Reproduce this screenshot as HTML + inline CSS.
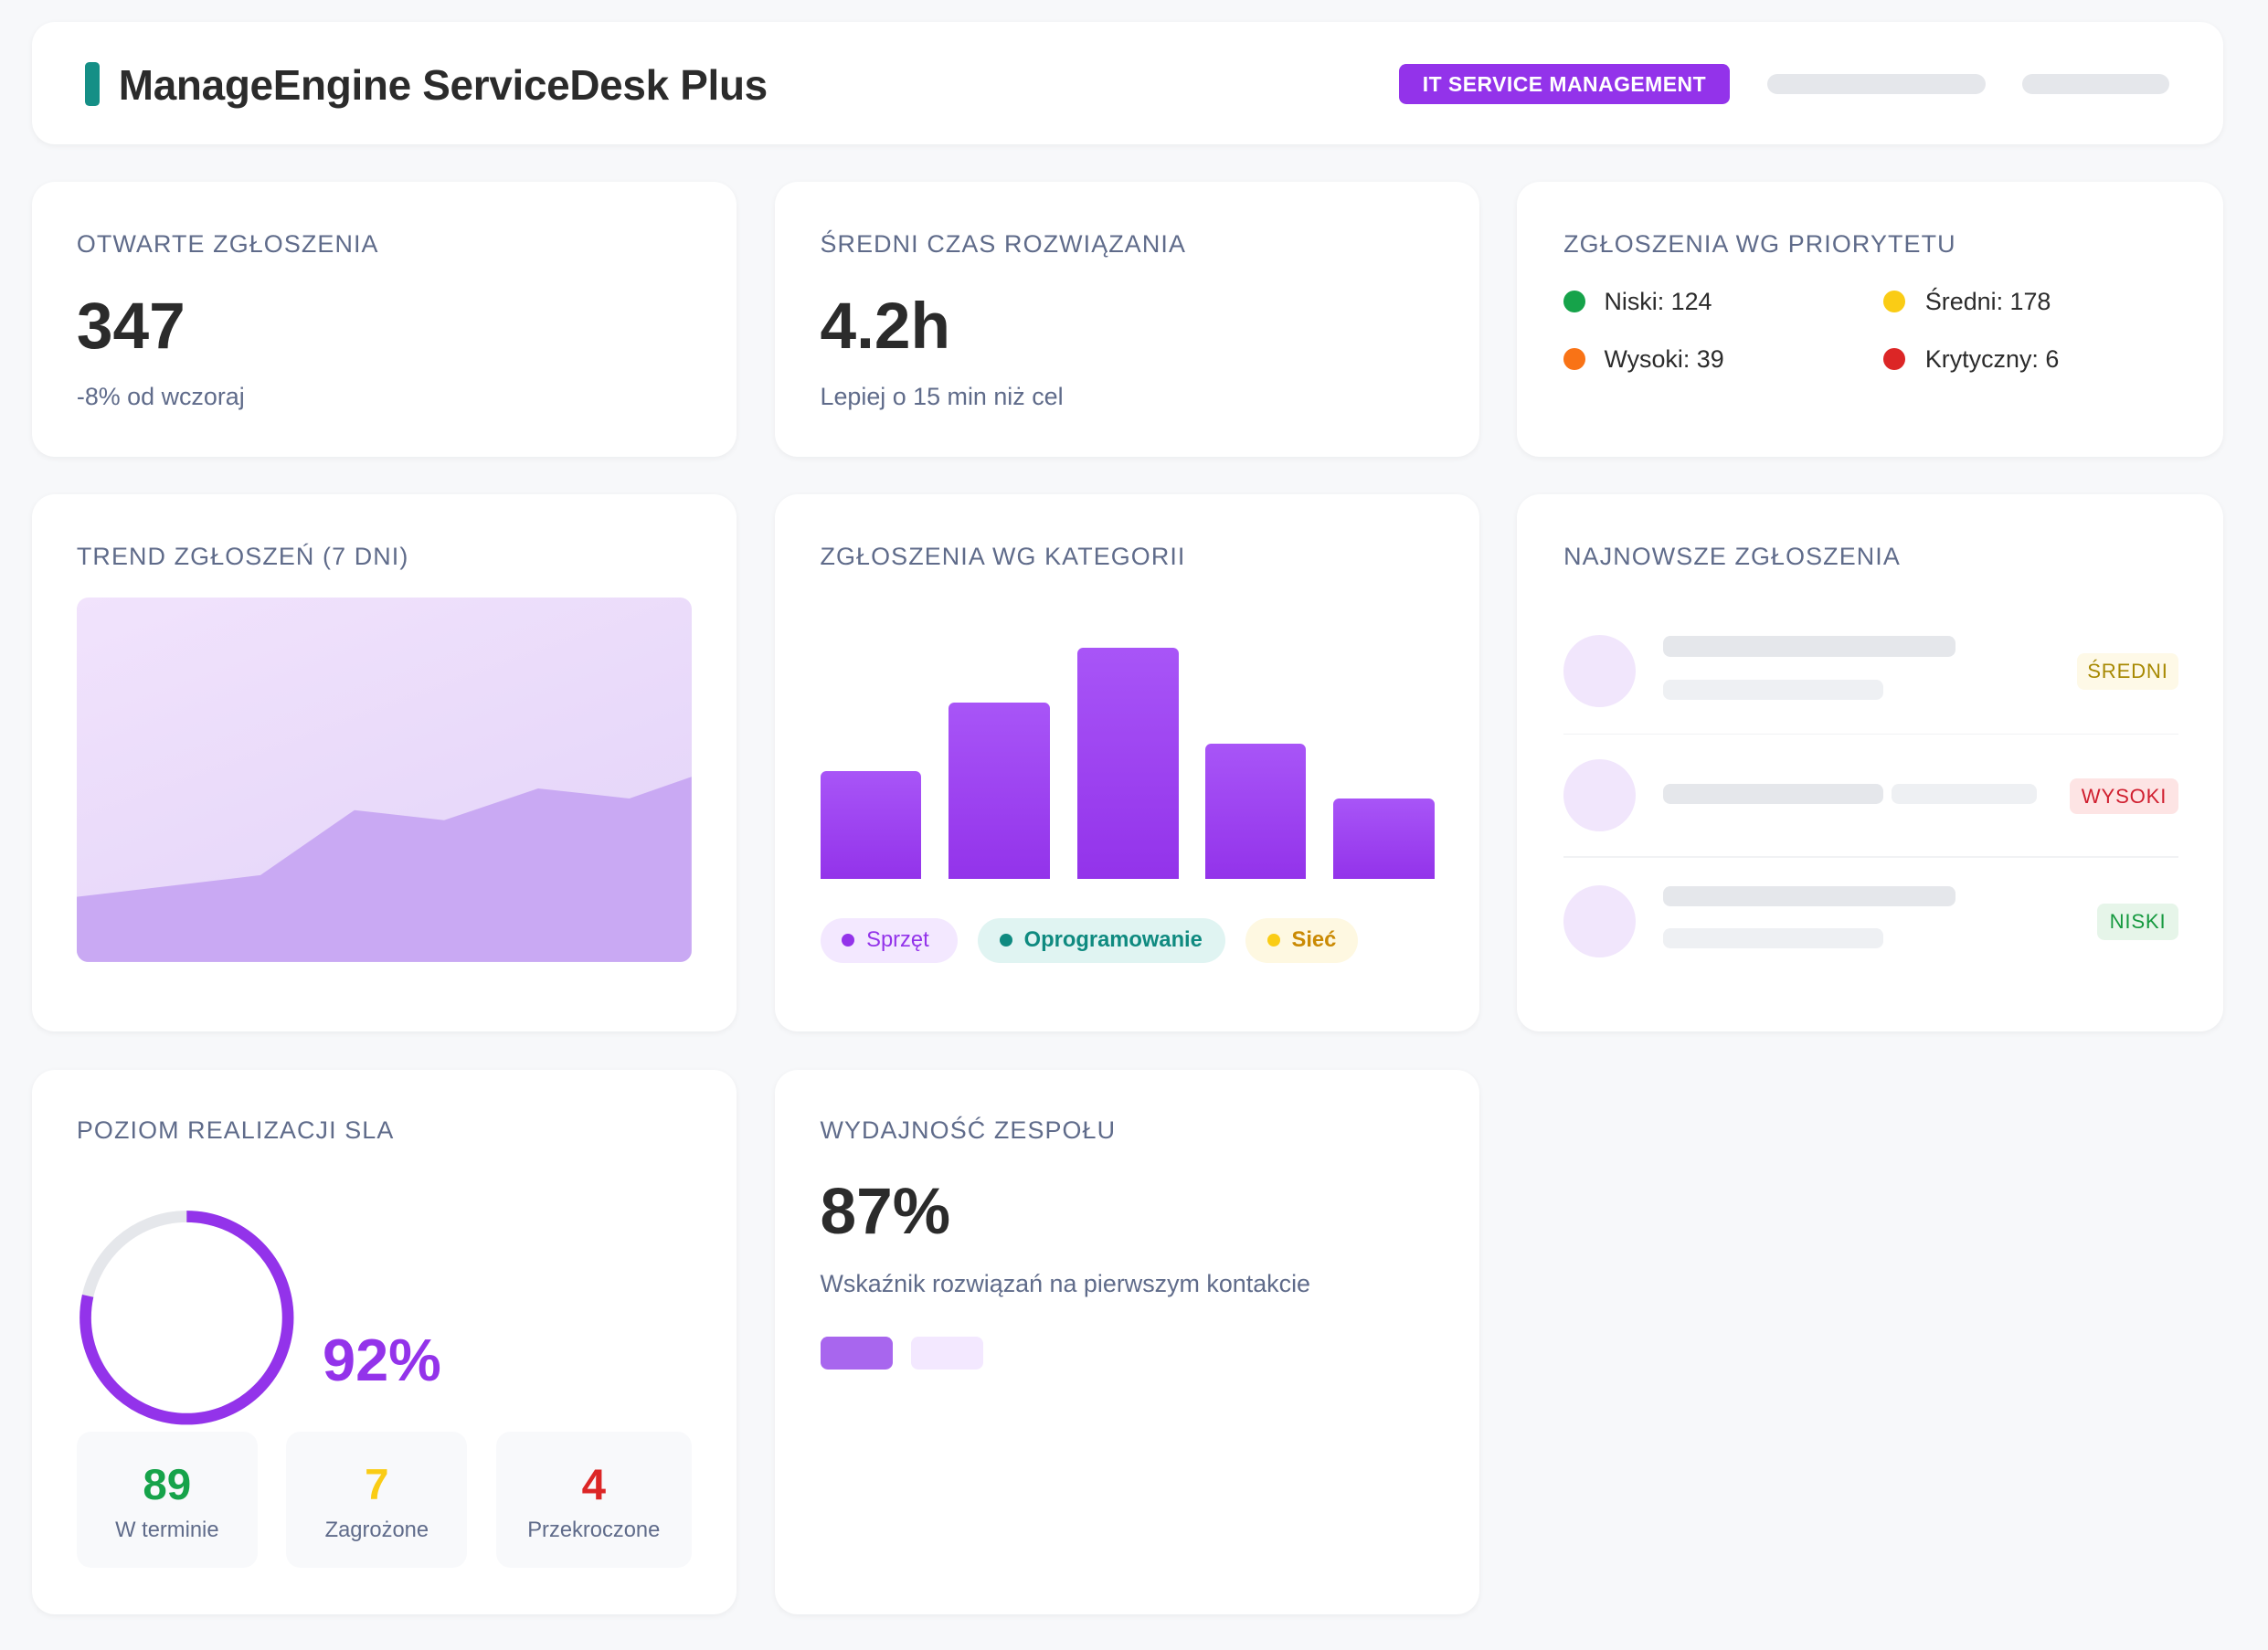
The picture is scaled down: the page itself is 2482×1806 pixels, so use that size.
<!DOCTYPE html>
<html><head><meta charset="utf-8"><style>
*{margin:0;padding:0;box-sizing:border-box}
html,body{width:2482px;height:1806px;overflow:hidden;background:#f7f8fa}
#w{position:absolute;left:0;top:0;width:1568px;height:1141px;zoom:1.58291;font-family:"Liberation Sans",sans-serif;color:#2b2b2b}
.a{position:absolute}
.card{position:absolute;background:#fff;border-radius:16px;box-shadow:0 1px 4px rgba(0,0,0,.05)}
.lbl{position:absolute;font-size:17px;letter-spacing:.7px;color:#5f6b8a;white-space:nowrap;line-height:20px}
.big{position:absolute;font-size:45px;font-weight:bold;color:#2b2b2b;line-height:50px}
.sub{position:absolute;font-size:17px;color:#5f6b8a;line-height:20px;white-space:nowrap}
.dot{position:absolute;width:15px;height:15px;border-radius:50%}
.pt{position:absolute;font-size:17px;color:#2b2b2b;line-height:20px}
.sk{position:absolute;height:14px;border-radius:5px;background:#e5e7eb}
.sk2{background:#eef0f3}
.circ{position:absolute;width:50px;height:50px;border-radius:50%;background:#f1e6fc}
.bdg{position:absolute;height:25px;border-radius:5px;font-size:14px;line-height:25px;text-align:center;letter-spacing:.5px}
.pill{position:absolute;top:635px;height:31px;border-radius:16px;font-size:15px;line-height:31px;font-weight:bold}
.pill i{display:inline-block;width:9px;height:9px;border-radius:50%;margin:0 8px 1px 15px;vertical-align:middle}
.bar{position:absolute;bottom:533px;width:70px;border-radius:4px 4px 0 0;background:linear-gradient(#a855f7,#9333ea)}
.sb{position:absolute;top:990px;height:94px;border-radius:10px;background:#f8f9fb;text-align:center}
.sb b{display:block;font-size:30px;margin-top:20px;line-height:34px}
.sb span{display:block;font-size:15px;color:#5f6b8a;margin-top:6px}
</style></head><body><div id="w">
<div class="card" style="left:22px;top:15px;width:1515px;height:85px"></div>
<div class="a" style="left:59px;top:43px;width:10px;height:30px;border-radius:3px;background:#158f86"></div>
<div class="a" style="left:82px;top:41px;font-size:29px;font-weight:bold;line-height:36px;color:#2b2b2b;letter-spacing:-.2px">ManageEngine ServiceDesk Plus</div>
<div class="a" style="left:967px;top:44px;width:229px;height:28px;border-radius:5px;background:#9333ea;color:#fff;font-size:14.5px;font-weight:bold;line-height:28px;text-align:center;letter-spacing:.3px">IT SERVICE MANAGEMENT</div>
<div class="a" style="left:1222px;top:51px;width:151px;height:14px;border-radius:7px;background:#e5e7eb"></div>
<div class="a" style="left:1398px;top:51px;width:102px;height:14px;border-radius:7px;background:#e5e7eb"></div>

<div class="card" style="left:22px;top:126px;width:487px;height:190px"></div>
<div class="card" style="left:536px;top:126px;width:487px;height:190px"></div>
<div class="card" style="left:1049px;top:126px;width:488px;height:190px"></div>
<div class="lbl" style="left:53px;top:159px">OTWARTE ZGŁOSZENIA</div>
<div class="big" style="left:53px;top:201px">347</div>
<div class="sub" style="left:53px;top:265px">-8% od wczoraj</div>
<div class="lbl" style="left:567px;top:159px">ŚREDNI CZAS ROZWIĄZANIA</div>
<div class="big" style="left:567px;top:201px">4.2h</div>
<div class="sub" style="left:567px;top:265px">Lepiej o 15 min niż cel</div>
<div class="lbl" style="left:1081px;top:159px">ZGŁOSZENIA WG PRIORYTETU</div>
<div class="dot" style="left:1081px;top:201px;background:#16a34a"></div><div class="pt" style="left:1109px;top:199px">Niski: 124</div>
<div class="dot" style="left:1302px;top:201px;background:#facc15"></div><div class="pt" style="left:1331px;top:199px">Średni: 178</div>
<div class="dot" style="left:1081px;top:241px;background:#f97316"></div><div class="pt" style="left:1109px;top:239px">Wysoki: 39</div>
<div class="dot" style="left:1302px;top:241px;background:#dc2626"></div><div class="pt" style="left:1331px;top:239px">Krytyczny: 6</div>

<div class="card" style="left:22px;top:342px;width:487px;height:371px"></div>
<div class="card" style="left:536px;top:342px;width:487px;height:371px"></div>
<div class="card" style="left:1049px;top:342px;width:488px;height:371px"></div>
<div class="lbl" style="left:53px;top:375px">TREND ZGŁOSZEŃ (7 DNI)</div>
<div class="a" style="left:53px;top:413px;width:425px;height:252px;border-radius:8px;overflow:hidden;background:linear-gradient(160deg,#f1e3fc,#e2d2f8)">
<svg width="425" height="252" style="display:block"><polygon points="0,207 127,192 192,147 254,154 319,132 382,139 425,124 425,252 0,252" fill="#c9a9f3"/></svg></div>
<div class="lbl" style="left:567px;top:375px">ZGŁOSZENIA WG KATEGORII</div>
<div class="bar" style="left:567px;height:75px"></div>
<div class="bar" style="left:656px;height:122px"></div>
<div class="bar" style="left:745px;height:160px"></div>
<div class="bar" style="left:833px;height:94px"></div>
<div class="bar" style="left:922px;height:56px"></div>
<div class="pill" style="left:567px;width:95px;background:#f3e8ff;color:#9333ea;font-weight:normal"><i style="background:#9333ea"></i>Sprzęt</div>
<div class="pill" style="left:676px;width:171px;background:#e0f4f2;color:#0f8a80"><i style="background:#0f8a80"></i>Oprogramowanie</div>
<div class="pill" style="left:861px;width:78px;background:#fef8e1;color:#ca8a04"><i style="background:#facc15"></i>Sieć</div>
<div class="lbl" style="left:1081px;top:375px">NAJNOWSZE ZGŁOSZENIA</div>
<div class="circ" style="left:1081px;top:439px"></div>
<div class="sk" style="left:1150px;top:440px;width:202px"></div>
<div class="sk sk2" style="left:1150px;top:470px;width:152px"></div>
<div class="bdg" style="left:1436px;top:452px;width:70px;background:#fef9e7;color:#a88a04">ŚREDNI</div>
<div class="a" style="left:1081px;top:507px;width:425px;height:1px;background:#f1f2f4"></div>
<div class="circ" style="left:1081px;top:525px"></div>
<div class="sk" style="left:1150px;top:542px;width:152px"></div>
<div class="sk sk2" style="left:1308px;top:542px;width:100px"></div>
<div class="bdg" style="left:1431px;top:538px;width:75px;background:#fde4e4;color:#d01f2f">WYSOKI</div>
<div class="a" style="left:1081px;top:592px;width:425px;height:1px;background:#f1f2f4"></div>
<div class="circ" style="left:1081px;top:612px"></div>
<div class="sk" style="left:1150px;top:613px;width:202px"></div>
<div class="sk sk2" style="left:1150px;top:642px;width:152px"></div>
<div class="bdg" style="left:1450px;top:625px;width:56px;background:#e6f5e9;color:#15993f">NISKI</div>

<div class="card" style="left:22px;top:740px;width:487px;height:376px"></div>
<div class="card" style="left:536px;top:740px;width:487px;height:376px"></div>
<div class="lbl" style="left:53px;top:772px">POZIOM REALIZACJI SLA</div>
<svg class="a" style="left:53px;top:835px" width="152" height="152"><circle cx="76" cy="76" r="70" fill="none" stroke="#e5e7eb" stroke-width="8"/><circle cx="76" cy="76" r="70" fill="none" stroke="#9333ea" stroke-width="8" stroke-dasharray="345 439.8" transform="rotate(-90 76 76)"/></svg>
<div class="a" style="left:223px;top:918px;font-size:41px;font-weight:bold;color:#9333ea;line-height:46px">92%</div>
<div class="sb" style="left:53px;width:125px"><b style="color:#16a34a">89</b><span>W terminie</span></div>
<div class="sb" style="left:198px;width:125px"><b style="color:#facc15">7</b><span>Zagrożone</span></div>
<div class="sb" style="left:343px;width:135px"><b style="color:#dc2626">4</b><span>Przekroczone</span></div>
<div class="lbl" style="left:567px;top:772px">WYDAJNOŚĆ ZESPOŁU</div>
<div class="big" style="left:567px;top:813px">87%</div>
<div class="sub" style="left:567px;top:878px">Wskaźnik rozwiązań na pierwszym kontakcie</div>
<div class="a" style="left:567px;top:924px;width:50px;height:23px;border-radius:5px;background:#a866ee"></div>
<div class="a" style="left:630px;top:924px;width:50px;height:23px;border-radius:5px;background:#f3e8ff"></div>
</div></body></html>
